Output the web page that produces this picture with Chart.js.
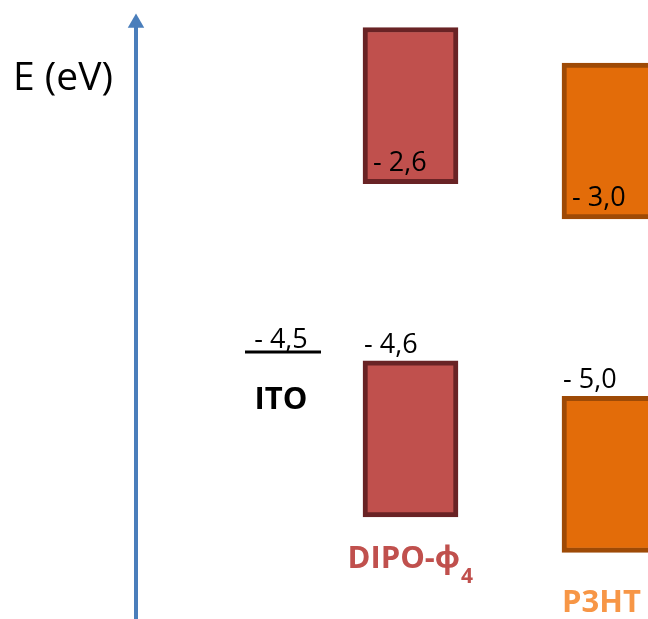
<!DOCTYPE html>
<html>
<head>
<meta charset="utf-8">
<script src="https://cdn.jsdelivr.net/npm/chart.js@4.4.0/dist/chart.umd.min.js"></script>
<style>
  html, body { margin: 0; padding: 0; background: #fff; overflow: hidden; }
  #wrap { width: 648px; height: 619px; position: relative; }
</style>
</head>
<body>
<div id="wrap"><canvas id="levels"></canvas></div>
<script>
// energy levels (eV)
var materials = ['ITO', 'DIPO-ф', 'P3HT'];
var subscripts = ['', '4', ''];
var lumo = [null, -2.6, -3.0];
var homo = [-4.5, -4.6, -5.0];

// layout (x in canvas units, boxes in eV)
var columnX = [283, 410.5, 609.5];
var axisX = 136;
var boxWidth = 95;
var boxDepth = 1.76;
var itoHalf = 38;
var yMin = -7.51, yMax = -0.53;
var arrowTop = -0.79;

var fills = ['#000000', '#C0504D', '#E36C09'];
var edges = ['#000000', '#692325', '#9E4A06'];
var nameColors = ['#000000', '#C0504D', '#F79646'];

function fmt(v) {
    return '- ' + Math.abs(v).toFixed(1).replace('.', ',');
}

var datasets = [];
for (var i = 1; i < materials.length; i++) {
    datasets.push({
        type: 'bar',
        data: [
            {x: columnX[i], y: [lumo[i], lumo[i] + boxDepth]},
            {x: columnX[i], y: [homo[i], homo[i] - boxDepth]}
        ],
        backgroundColor: fills[i],
        borderColor: edges[i],
        borderWidth: 5,
        borderSkipped: false,
        barThickness: boxWidth,
        grouped: false
    });
}
// ITO work function line
datasets.push({
    type: 'line',
    data: [{x: columnX[0] - itoHalf, y: homo[0]}, {x: columnX[0] + itoHalf, y: homo[0]}],
    borderColor: '#000',
    borderWidth: 3,
    pointRadius: 0
});
// energy axis arrow
datasets.push({
    type: 'line',
    data: [{x: axisX, y: yMin}, {x: axisX, y: arrowTop}],
    borderColor: '#4A7EBB',
    borderWidth: 4,
    pointRadius: [0, 9.5],
    pointStyle: 'triangle',
    pointBackgroundColor: '#4A7EBB',
    pointBorderWidth: 0
});

var labelPlugin = {
    id: 'labels',
    afterDatasetsDraw: function (chart) {
        var ctx = chart.ctx;
        var x = chart.scales.x, y = chart.scales.y;
        ctx.save();
        ctx.textBaseline = 'alphabetic';
        ctx.fillStyle = '#000';

        ctx.font = '39px "Open Sans"';
        ctx.textAlign = 'left';
        ctx.fillText('E (eV)', 13, 90);

        ctx.font = '27px "Open Sans"';
        for (var i = 0; i < materials.length; i++) {
            var cx = x.getPixelForValue(columnX[i]);
            var left = cx - boxWidth / 2;
            if (i === 0) {
                ctx.textAlign = 'center';
                ctx.fillText(fmt(homo[0]), cx - 2, y.getPixelForValue(homo[0]) - 4);
                continue;
            }
            ctx.textAlign = 'left';
            ctx.fillText(fmt(lumo[i]), left + 10, y.getPixelForValue(lumo[i]) - 13);
            ctx.fillText(fmt(homo[i]), left + 1, y.getPixelForValue(homo[i]) - 8);
        }

        // material names
        var itoX = x.getPixelForValue(columnX[0]);
        ctx.font = 'bold 31px "Open Sans"';
        ctx.textAlign = 'center';
        ctx.fillStyle = nameColors[0];
        ctx.fillText(materials[0], itoX - 2, y.getPixelForValue(homo[0]) + 57);

        ctx.textAlign = 'left';
        for (var j = 1; j < materials.length; j++) {
            var bx = x.getPixelForValue(columnX[j]);
            var bottom = y.getPixelForValue(homo[j] - boxDepth);
            var tx = j === 1 ? bx - 63 : bx - boxWidth / 2;
            var ty = bottom + (j === 1 ? 51 : 60);
            ctx.fillStyle = nameColors[j];
            ctx.font = 'bold 31px "Open Sans"';
            ctx.fillText(materials[j], tx, ty);
            if (subscripts[j]) {
                var w = ctx.measureText(materials[j]).width;
                ctx.font = 'bold 21px "Open Sans"';
                ctx.fillText(subscripts[j], tx + w + 1, ty + 15);
            }
        }
        ctx.restore();
    }
};

new Chart(document.getElementById('levels').getContext('2d'), {
    type: 'bar',
    data: { datasets: datasets },
    options: {
        responsive: true,
        maintainAspectRatio: false,
        animation: false,
        events: [],
        layout: { padding: 0, autoPadding: false },
        plugins: { legend: { display: false }, tooltip: { enabled: false } },
        scales: {
            x: { type: 'linear', min: 0, max: 648, offset: false, display: false },
            y: { type: 'linear', min: yMin, max: yMax, display: false }
        }
    },
    plugins: [labelPlugin]
});
</script>
</body>
</html>
